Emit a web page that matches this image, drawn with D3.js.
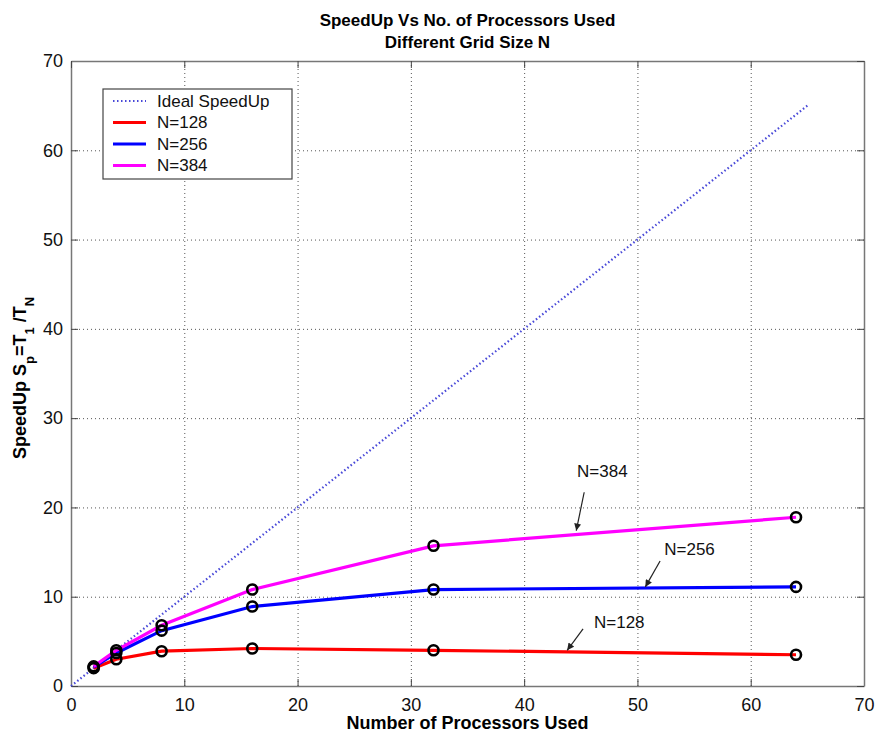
<!DOCTYPE html>
<html>
<head>
<meta charset="utf-8">
<script src="https://cdn.jsdelivr.net/npm/d3@7"></script>
<style>
	body { margin: 0; background: #fff; }
	svg { font-family: "Liberation Sans", Arial, sans-serif; }
</style>
</head>
<body>
<div id="chart"></div>
<script>
// processors used
var procs = [ 2, 4, 8, 16, 32, 64 ];
var speedup128 = [ 2.0, 3.0, 3.9, 4.2, 4.0, 3.5 ];
var speedup256 = [ 2.1, 3.7, 6.2, 8.9, 10.8, 11.1 ];
var speedup384 = [ 2.2, 4.0, 6.8, 10.8, 15.7, 18.9 ];
var idealX = [ 0, 65 ];
var xTicks = [ 0, 10, 20, 30, 40, 50, 60, 70 ];
var yTicks = [ 0, 10, 20, 30, 40, 50, 60, 70 ];
var seriesNames = [ "N=128", "N=256", "N=384" ];
// annotation: text pos, arrow tail, arrow tip (data units)
var notes = [
	{ label: "N=384", tx: 46.9, ty: 23.4, x1: 45.3, y1: 21.7, x2: 44.6, y2: 17.4 },
	{ label: "N=256", tx: 54.6, ty: 14.7, x1: 52.0, y1: 14.0, x2: 50.7, y2: 11.1 },
	{ label: "N=128", tx: 48.4, ty: 6.5, x1: 45.2, y1: 6.4, x2: 43.8, y2: 4.0 }
];

var width = 875, height = 736;
var plotLeft = 71, plotRight = 864, plotTop = 61, plotBottom = 686;
var colors = { "N=128": "#ff0000", "N=256": "#0000ff", "N=384": "#ff00ff" };

var xScale = d3.scaleLinear().domain( [ 0, 70 ] ).range( [ plotLeft, plotRight ] );
var yScale = d3.scaleLinear().domain( [ 0, 70 ] ).range( [ plotBottom, plotTop ] );

var svg = d3.select( "#chart" ).append( "svg" )
	.attr( "width", width )
	.attr( "height", height );

// grid
svg.append( "g" )
	.attr( "transform", `translate(0, ${ plotBottom })` )
	.call( d3.axisBottom( xScale ).tickValues( xTicks ).tickSize( -( plotBottom - plotTop ) ).tickFormat( "" ) )
	.call( g => g.select( ".domain" ).remove() )
	.selectAll( "line" )
	.attr( "stroke", "#555" )
	.attr( "stroke-dasharray", "1,3" );
svg.append( "g" )
	.attr( "transform", `translate(${ plotLeft }, 0)` )
	.call( d3.axisLeft( yScale ).tickValues( yTicks ).tickSize( -( plotRight - plotLeft ) ).tickFormat( "" ) )
	.call( g => g.select( ".domain" ).remove() )
	.selectAll( "line" )
	.attr( "stroke", "#555" )
	.attr( "stroke-dasharray", "1,3" );

// axes, ticks pointing inward on all sides
svg.append( "g" )
	.attr( "transform", `translate(0, ${ plotBottom })` )
	.call( d3.axisBottom( xScale ).tickValues( xTicks ).tickSizeInner( -7 ).tickSizeOuter( 0 ).tickPadding( 12 ) )
	.call( g => g.selectAll( "text" ).attr( "font-size", "18px" ).attr( "fill", "#111" ) );
svg.append( "g" )
	.attr( "transform", `translate(${ plotLeft }, 0)` )
	.call( d3.axisLeft( yScale ).tickValues( yTicks ).tickSizeInner( -7 ).tickSizeOuter( 0 ).tickPadding( 8 ) )
	.call( g => g.selectAll( "text" ).attr( "font-size", "18px" ).attr( "fill", "#111" ) );
svg.append( "g" )
	.attr( "transform", `translate(0, ${ plotTop })` )
	.call( d3.axisTop( xScale ).tickValues( xTicks ).tickSizeInner( -7 ).tickSizeOuter( 0 ).tickFormat( "" ) );
svg.append( "g" )
	.attr( "transform", `translate(${ plotRight }, 0)` )
	.call( d3.axisRight( yScale ).tickValues( yTicks ).tickSizeInner( -7 ).tickSizeOuter( 0 ).tickFormat( "" ) );
svg.selectAll( ".domain" ).attr( "stroke", "#777" ).attr( "stroke-width", 1.5 );
svg.selectAll( ".tick line" ).filter( function () { return !this.getAttribute( "stroke-dasharray" ); } )
	.attr( "stroke", "#444" );

// ideal line
var line = d3.line().x( d => xScale( d[0] ) ).y( d => yScale( d[1] ) );
svg.append( "path" )
	.attr( "d", line( idealX.map( v => [ v, v ] ) ) )
	.attr( "fill", "none" )
	.attr( "stroke", "#4848d8" )
	.attr( "stroke-width", 2.2 )
	.attr( "stroke-dasharray", "1.5,2.5" );

var seriesData = {
	"N=128": speedup128,
	"N=256": speedup256,
	"N=384": speedup384
};

seriesNames.forEach( function ( name ) {
	var pts = procs.map( ( p, i ) => [ p, seriesData[name][i] ] );
	svg.append( "path" )
		.attr( "d", line( pts ) )
		.attr( "fill", "none" )
		.attr( "stroke", colors[name] )
		.attr( "stroke-width", 3.2 );
} );
seriesNames.forEach( function ( name ) {
	var pts = procs.map( ( p, i ) => [ p, seriesData[name][i] ] );
	svg.append( "g" ).selectAll( "circle" )
		.data( pts ).join( "circle" )
		.attr( "cx", d => xScale( d[0] ) )
		.attr( "cy", d => yScale( d[1] ) )
		.attr( "r", 5 )
		.attr( "fill", "none" )
		.attr( "stroke", "#000" )
		.attr( "stroke-width", 2.6 );
} );

// annotations
svg.append( "defs" ).append( "marker" )
	.attr( "id", "arr" )
	.attr( "viewBox", "0 0 10 10" )
	.attr( "refX", 10 ).attr( "refY", 5 )
	.attr( "markerWidth", 9 ).attr( "markerHeight", 7 )
	.attr( "markerUnits", "userSpaceOnUse" )
	.attr( "orient", "auto" )
	.append( "path" )
	.attr( "d", "M0,0 L10,5 L0,10 z" )
	.attr( "fill", "#222" );

notes.forEach( function ( n ) {
	svg.append( "line" )
		.attr( "x1", xScale( n.x1 ) ).attr( "y1", yScale( n.y1 ) )
		.attr( "x2", xScale( n.x2 ) ).attr( "y2", yScale( n.y2 ) )
		.attr( "stroke", "#222" )
		.attr( "stroke-width", 1.2 )
		.attr( "marker-end", "url(#arr)" );
	svg.append( "text" )
		.attr( "x", xScale( n.tx ) )
		.attr( "y", yScale( n.ty ) )
		.attr( "text-anchor", "middle" )
		.attr( "font-size", "17px" )
		.attr( "fill", "#111" )
		.text( n.label );
} );

// legend
var legend = svg.append( "g" ).attr( "transform", "translate(103, 89)" );
legend.append( "rect" )
	.attr( "width", 189 ).attr( "height", 90 )
	.attr( "fill", "#fff" )
	.attr( "stroke", "#444" )
	.attr( "stroke-width", 1.2 );
var legendItems = [ "Ideal SpeedUp" ].concat( seriesNames );
legendItems.forEach( function ( name, i ) {
	var y = 12 + i * 21.5;
	legend.append( "line" )
		.attr( "x1", 10 ).attr( "x2", 43 )
		.attr( "y1", y ).attr( "y2", y )
		.attr( "stroke", i === 0 ? "#4848d8" : colors[name] )
		.attr( "stroke-width", i === 0 ? 2.2 : 3.2 )
		.attr( "stroke-dasharray", i === 0 ? "1.5,2.5" : null );
	legend.append( "text" )
		.attr( "x", 54 ).attr( "y", y )
		.attr( "dy", "0.35em" )
		.attr( "font-size", "17px" )
		.attr( "fill", "#111" )
		.text( name );
} );

// titles
svg.append( "text" )
	.attr( "x", ( plotLeft + plotRight ) / 2 ).attr( "y", 26 )
	.attr( "text-anchor", "middle" )
	.attr( "font-size", "17px" ).attr( "font-weight", "bold" )
	.text( "SpeedUp Vs No. of Processors Used" );
svg.append( "text" )
	.attr( "x", ( plotLeft + plotRight ) / 2 ).attr( "y", 48 )
	.attr( "text-anchor", "middle" )
	.attr( "font-size", "17px" ).attr( "font-weight", "bold" )
	.text( "Different Grid Size N" );
svg.append( "text" )
	.attr( "x", ( plotLeft + plotRight ) / 2 ).attr( "y", 729 )
	.attr( "text-anchor", "middle" )
	.attr( "font-size", "18px" ).attr( "font-weight", "bold" )
	.text( "Number of Processors Used" );

var yl = svg.append( "text" )
	.attr( "transform", "translate(26, 378) rotate(-90)" )
	.attr( "text-anchor", "middle" )
	.attr( "font-size", "18px" ).attr( "font-weight", "bold" );
yl.append( "tspan" ).text( "SpeedUp S" );
yl.append( "tspan" ).attr( "baseline-shift", "sub" ).attr( "font-size", "13px" ).text( "p" );
yl.append( "tspan" ).text( "=T" );
yl.append( "tspan" ).attr( "baseline-shift", "sub" ).attr( "font-size", "13px" ).text( "1" );
yl.append( "tspan" ).text( " /T" );
yl.append( "tspan" ).attr( "baseline-shift", "sub" ).attr( "font-size", "13px" ).text( "N" );
</script>
</body>
</html>
